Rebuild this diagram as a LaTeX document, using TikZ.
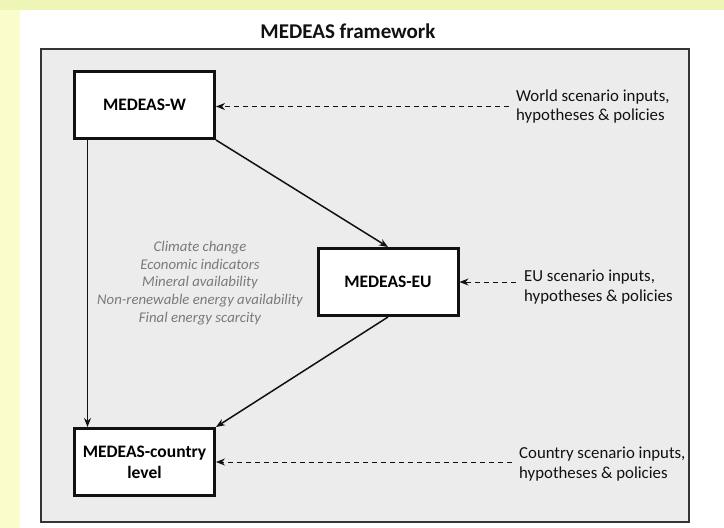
\documentclass[tikz,border=0pt]{standalone}
\usepackage{fontspec}
\setmainfont{Carlito}
\usetikzlibrary{positioning,arrows.meta}
\definecolor{yel}{HTML}{EEF5B6}
\definecolor{lyel}{HTML}{FBFCCC}
\definecolor{pnl}{HTML}{ECECEC}
\definecolor{ink}{HTML}{111111}
\definecolor{note}{HTML}{7A7A7A}

\begin{document}
\begin{tikzpicture}[x=1pt, y=-1pt,
  font=\fontsize{14}{17}\selectfont,
  model/.style={draw=ink, line width=3pt, fill=white, align=center, inner sep=2pt,
    minimum width=140pt, minimum height=67pt, font=\bfseries\fontsize{17.5}{21}\selectfont},
  >={Stealth[length=9pt,width=7pt]},
  feed/.style={->, line width=1.5pt, ink},
  input/.style={->, line width=1pt, ink, dash pattern=on 5pt off 4pt},
  lab/.style={align=left, anchor=west, inner sep=0pt, text=ink, font=\fontsize{16.8}{19.5}\selectfont}
]
% ---------------------------------------------------------------- page
\fill[yel] (0,0) rectangle (724,528);
\fill[lyel] (0,10) rectangle (20,528);
\fill[white] (20,10) rectangle (724,528);
\useasboundingbox (0,0) rectangle (724,528);
\node[font=\bfseries\fontsize{21}{24}\selectfont, text=ink] (title) at (348,31) {MEDEAS framework};
\draw[ink!85, line width=1.4pt, fill=pnl] (41,49) rectangle (689,522);

% ---------------------------------------------------------------- models
\node[model] (w) at (144.5,105) {MEDEAS-W};
\node[model] (eu) at (388,282) {MEDEAS-EU};
\node[model] (cty) at (144.5,462) {MEDEAS-country\\level};

% ---------------------------------------------------------------- scenario inputs
\node[lab] (win) at (516,106.5) {World scenario inputs,\\hypotheses \& policies};
\node[lab] (euin) at (524,287) {EU scenario inputs,\\hypotheses \& policies};
\node[lab] (ctyin) at (519,464) {Country scenario inputs,\\hypotheses \& policies};

\draw[input, shorten <=7pt] (win.west) -- (w.east |- win.west);
\draw[input, shorten <=8pt] (euin.west |- eu.east) -- (eu.east);
\draw[input, shorten <=7pt] (ctyin.west |- cty.east) -- (cty.east);

% ---------------------------------------------------------------- links between levels
\draw[feed] (w.south east) -- (eu.north);
\draw[feed] ([xshift=-57pt]w.south) -- ([xshift=-57pt]cty.north);
\draw[feed] (eu.south) -- (cty.north east);

% exchanged variables
\node[align=center, text=note, font=\itshape\fontsize{14.8}{17.8}\selectfont] (vars) at (200,283)
  {Climate change\\Economic indicators\\Mineral availability\\Non-renewable energy availability\\Final energy scarcity};
\end{tikzpicture}
\end{document}
